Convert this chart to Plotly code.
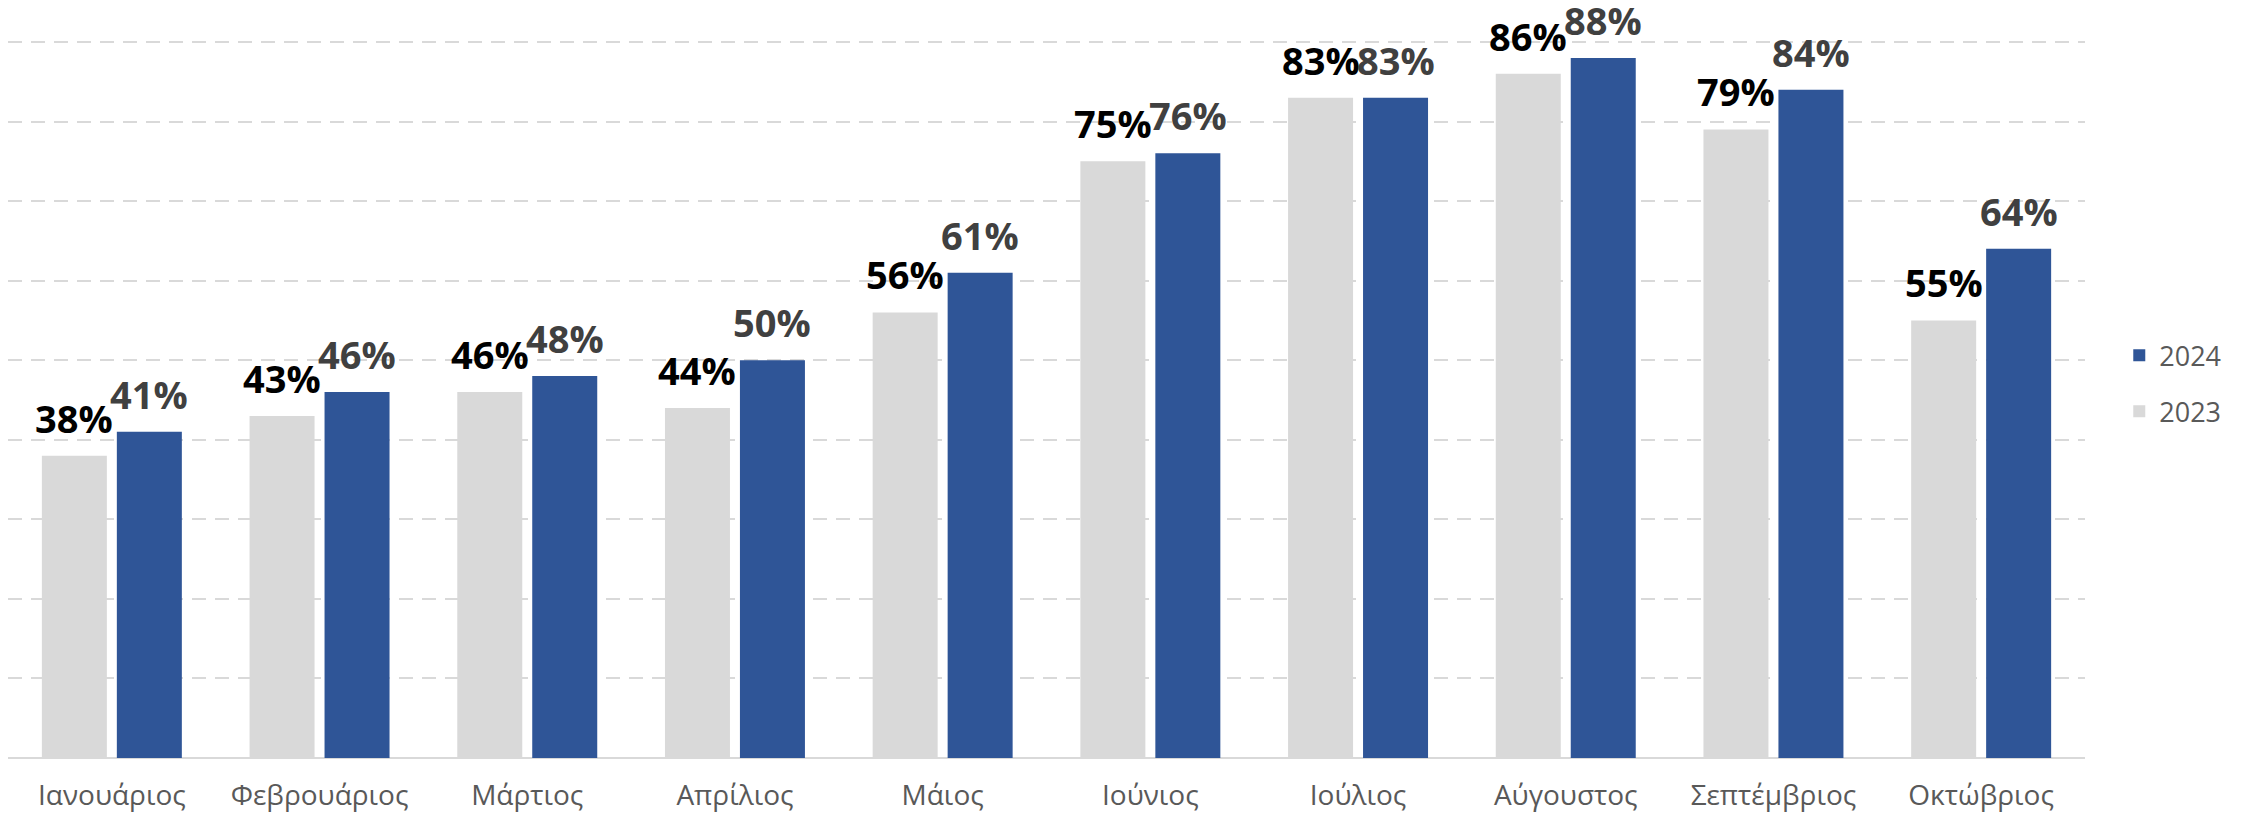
import plotly.graph_objects as go

months = ["Ιανουάριος", "Φεβρουάριος", "Μάρτιος", "Απρίλιος", "Μάιος",
          "Ιούνιος", "Ιούλιος", "Αύγουστος", "Σεπτέμβριος", "Οκτώβριος"]
values_2023 = [38, 43, 46, 44, 56, 75, 83, 86, 79, 55]
values_2024 = [41, 46, 48, 50, 61, 76, 83, 88, 84, 64]

C2023 = "#D9D9D9"
C2024 = "#2F5597"
FONT = "Open Sans"

fig = go.Figure()
fig.add_trace(go.Bar(x=months, y=[v / 100 for v in values_2023], name="2023",
                     marker=dict(color=C2023, line=dict(width=0)),
                     legendgroup="a", legendrank=2, hoverinfo="skip"))
fig.add_trace(go.Bar(x=months, y=[v / 100 for v in values_2024], name="2024",
                     marker=dict(color=C2024, line=dict(width=0)),
                     legendgroup="b", legendrank=1, hoverinfo="skip"))

annotations = []
for m, v in zip(months, values_2023):
    annotations.append(dict(x=m, y=v / 100, text=f"{v}%", showarrow=False,
                            xref="x", yref="y", xshift=-37.5, yshift=10,
                            yanchor="bottom", xanchor="center",
                            font=dict(family=FONT, size=38, color="#000000", weight="bold")))
for m, v in zip(months, values_2024):
    annotations.append(dict(x=m, y=v / 100, text=f"{v}%", showarrow=False,
                            xref="x", yref="y", xshift=37.5, yshift=10,
                            yanchor="bottom", xanchor="center",
                            font=dict(family=FONT, size=38, color="#404040", weight="bold")))

fig.update_layout(
    width=2236, height=807,
    margin=dict(l=0, r=159, t=30, b=57),
    plot_bgcolor="white", paper_bgcolor="white",
    barmode="group", bargap=0.278, bargroupgap=0.133,
    font=dict(family=FONT, color="#595959"),
    annotations=annotations,
    showlegend=True,
    legend=dict(x=1.0165, y=0.52, xanchor="left", yanchor="middle",
                traceorder="grouped", tracegroupgap=18,
                font=dict(family=FONT, size=27, color="#595959"),
                bgcolor="rgba(0,0,0,0)"),
    xaxis=dict(showgrid=False, showline=False, ticks="", automargin=False,
               ticklabelstandoff=18,
               tickfont=dict(family=FONT, size=28, color="#595959")),
    yaxis=dict(range=[0, 0.905], dtick=0.1, tick0=0, showticklabels=False,
               showgrid=True, gridcolor="#D9D9D9", gridwidth=2, griddash="14px,9px",
               zeroline=True, zerolinecolor="#D9D9D9", zerolinewidth=2,
               showline=False, ticks=""),
)

fig.write_html("out.html")
